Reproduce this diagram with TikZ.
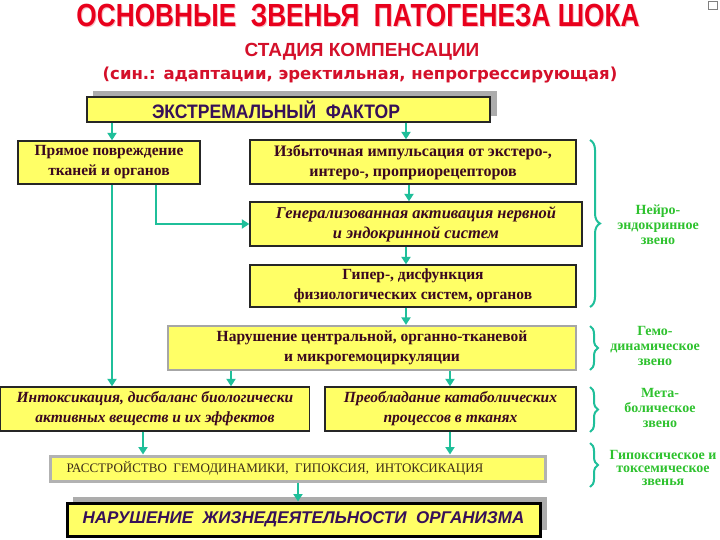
\documentclass[tikz,border=0pt]{standalone}
\usepackage{fontspec}
\setmainfont{Liberation Serif}
\newfontfamily\narrowsans[FakeStretch=0.82]{Liberation Sans}
\newfontfamily\midsans[FakeStretch=0.90]{Liberation Sans}
\newfontfamily\widesans{DejaVu Sans}
\newfontfamily\plainsans{Liberation Sans}
\usetikzlibrary{arrows.meta,decorations.pathreplacing}
\definecolor{boxyellow}{HTML}{FFFF66}
\definecolor{tealc}{HTML}{1FBF9A}
\definecolor{boxtext}{HTML}{3A0820}
\definecolor{titlered}{HTML}{E8001C}
\definecolor{subred}{HTML}{D4102A}
\definecolor{lblgreen}{HTML}{2EC22E}
\definecolor{darkpurple}{HTML}{361058}
\definecolor{rasstext}{HTML}{3A2A18}
\begin{document}
\begin{tikzpicture}[x=1pt,y=-1pt,
  box/.style={draw=black!85, line width=1.3pt, fill=boxyellow, inner sep=0pt, align=center, text=boxtext, font=\fontsize{15.5}{20}\selectfont\bfseries},
  ibox/.style={box, font=\fontsize{15.5}{20}\selectfont\bfseries\itshape},
  arr/.style={draw=tealc, line width=2.6pt, -{Triangle[width=9pt,length=7.5pt]}},
  brc/.style={draw=tealc, line width=2pt, decorate, decoration={brace, amplitude=10pt}},
  sbrc/.style={draw=tealc, line width=2pt, decorate, decoration={brace, amplitude=8pt}},
  lbl/.style={text=lblgreen, align=center, font=\fontsize{14}{15}\selectfont\bfseries},
  shade/.style={fill=gray!65, draw=none}
]
\useasboundingbox (0,0) rectangle (720,540);
\fill[white] (0,0) rectangle (720,540);
% small icon top right
\draw[gray, line width=0.6pt] (708,1) rectangle (717,9);
% titles
\node[anchor=base, text=titlered!25, font=\narrowsans\bfseries\fontsize{32}{34}\selectfont] (titlesh) at (359,28) {ОСНОВНЫЕ\ \ ЗВЕНЬЯ\ \ ПАТОГЕНЕЗА ШОКА};
\node[anchor=base, text=titlered, font=\narrowsans\bfseries\fontsize{32}{34}\selectfont] (title) at (358,27) {ОСНОВНЫЕ\ \ ЗВЕНЬЯ\ \ ПАТОГЕНЕЗА ШОКА};
\node[anchor=base, text=subred, font=\plainsans\bfseries\fontsize{19}{21}\selectfont] (sub) at (362,57) {СТАДИЯ КОМПЕНСАЦИИ};
\node[anchor=base, text=subred, font=\widesans\bfseries\fontsize{16.5}{18}\selectfont] (syn) at (360,80) {(син.: адаптации, эректильная, непрогрессирующая)};
% extreme factor
\fill[shade] (93,91) rectangle (497,116);
\node[box, minimum width=403pt, minimum height=25pt] (ext) at (288.5,109.5) {};
\node[text=darkpurple, font=\midsans\bfseries\fontsize{19.5}{21}\selectfont] (extt) at (276,109.5) {ЭКСТРЕМАЛЬНЫЙ\ \ ФАКТОР};
% boxes
\node[box, minimum width=182pt, minimum height=43pt] (pr) at (109,162.5) {Прямое повреждение\\тканей и органов};
\node[box, font=\fontsize{16}{20}\selectfont\bfseries, minimum width=326pt, minimum height=44pt] (izb) at (413,162) {Избыточная импульсация от экстеро-,\\интеро-, проприорецепторов};
\node[ibox, font=\fontsize{16.5}{20}\selectfont\bfseries\itshape, minimum width=332pt, minimum height=44pt] (gen) at (416,224) {Генерализованная активация нервной\\и эндокринной систем};
\node[box, minimum width=326pt, minimum height=42pt] (gip) at (413,286) {Гипер-, дисфункция\\физиологических систем, органов};
\node[box, draw=gray!70, line width=2.2pt, minimum width=408pt, minimum height=44pt] (nar) at (372,348) {Нарушение центральной, органно-тканевой\\и микрогемоциркуляции};
\node[ibox, minimum width=309pt, minimum height=44pt] (intox) at (155,409) {Интоксикация, дисбаланс биологически\\активных веществ и их эффектов};
\node[ibox, minimum width=251pt, minimum height=44pt] (preob) at (450.5,409) {Преобладание катаболических\\процессов в тканях};
\node[box, draw=gray!60, line width=3pt, minimum width=495pt, minimum height=25pt] (rass) at (297.5,468.5) {};
\node[text=rasstext, font=\fontsize{13}{14}\selectfont] (rasst) at (275,468.5) {РАССТРОЙСТВО\ \ ГЕМОДИНАМИКИ,\ \ ГИПОКСИЯ,\ \ ИНТОКСИКАЦИЯ};
\fill[shade] (73,497) rectangle (547,530);
\node[box, draw=black, line width=3pt, minimum width=473pt, minimum height=33pt, text=darkpurple, font=\plainsans\bfseries\itshape\fontsize{17}{19}\selectfont] (fin) at (303.5,519.5) {НАРУШЕНИЕ\ \ ЖИЗНЕДЕЯТЕЛЬНОСТИ\ \ ОРГАНИЗМА};
% x positions of connectors
\coordinate (xa) at (112,0);
\coordinate (xb) at (406,0);
\coordinate (xc) at (409,0);
\coordinate (xd) at (156,0);
\coordinate (xe) at (231,0);
\coordinate (xf) at (450,0);
\coordinate (xg) at (143,0);
\coordinate (xh) at (298,0);
% connectors
\draw[arr] (ext.south -| xa) -- (pr.north -| xa);
\draw[arr] (ext.south -| xb) -- (izb.north -| xb);
\draw[arr] (pr.south -| xa) -- (intox.north -| xa);
\draw[arr] (pr.south -| xd) |- (gen.west);
\draw[arr] (izb.south -| xc) -- (gen.north -| xc);
\draw[arr] (gen.south -| xb) -- (gip.north -| xb);
\draw[arr] (gip.south -| xb) -- (nar.north -| xb);
\draw[arr] (nar.south -| xe) -- (intox.north -| xe);
\draw[arr] (nar.south -| xf) -- (preob.north -| xf);
\draw[arr] (intox.south -| xg) -- (rass.north -| xg);
\draw[arr] (preob.south -| xf) -- (rass.north -| xf);
\draw[arr] (rass.south -| xh) -- (fin.north -| xh);
% braces
\coordinate (b1t) at (590,140); \coordinate (b1b) at (590,307);
\coordinate (b2t) at (590,326); \coordinate (b2b) at (590,370);
\coordinate (b3t) at (590,387); \coordinate (b3b) at (590,432);
\coordinate (b4t) at (590,443); \coordinate (b4b) at (590,487);
\draw[brc] (b1t) -- (b1b);
\draw[sbrc] (b2t) -- (b2b);
\draw[sbrc] (b3t) -- (b3b);
\draw[sbrc] (b4t) -- (b4b);
% brace labels
\node[lbl] (l1) at (658,225) {Нейро-\\эндокринное\\звено};
\node[lbl] (l2) at (655,346) {Гемо-\\динамическое\\звено};
\node[lbl] (l3) at (660,408) {Мета-\\болическое\\звено};
\node[lbl, font=\fontsize{14}{13}\selectfont\bfseries] (l4) at (663,468) {Гипоксическое и\\токсемическое\\звенья};
\end{tikzpicture}
\end{document}
